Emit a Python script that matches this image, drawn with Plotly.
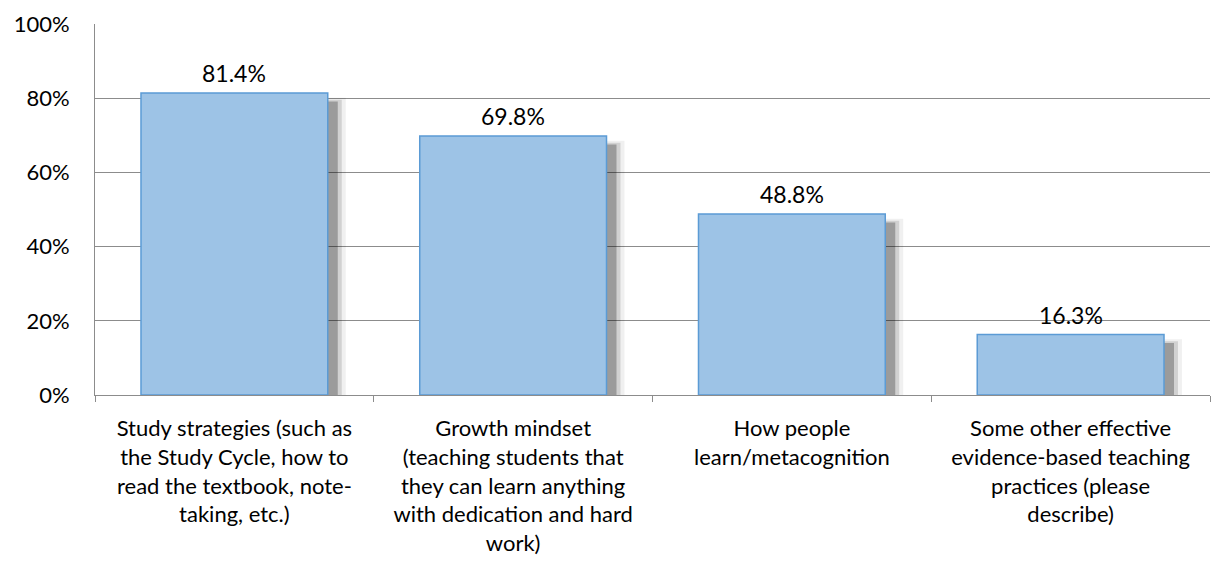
import plotly.graph_objects as go

categories = [
    "Study strategies (such as<br>the Study Cycle, how to<br>read the textbook, note-<br>taking, etc.)",
    "Growth mindset<br>(teaching students that<br>they can learn anything<br>with dedication and hard<br>work)",
    "How people<br>learn/metacognition",
    "Some other effective<br>evidence-based teaching<br>practices (please<br>describe)",
]
values = [0.814, 0.698, 0.488, 0.163]
value_labels = ["81.4%", "69.8%", "48.8%", "16.3%"]

FONT = "Lato"
BAR_W = 0.67
PX = 1 / 279.0  # one pixel in category units

fig = go.Figure()

# soft drop shadow layers (derived from data)
shadow_layers = [
    (18 * PX, 0.013, "rgba(0,0,0,0.06)"),
    (14 * PX, 0.018, "rgba(0,0,0,0.13)"),
    (10 * PX, 0.023, "rgba(0,0,0,0.26)"),
]
for dx, dy, col in shadow_layers:
    fig.add_trace(go.Bar(
        x=categories, y=[max(v - dy, 0) for v in values],
        width=BAR_W, offset=-BAR_W / 2 + dx,
        marker=dict(color=col, line=dict(width=0)),
        hoverinfo="skip", showlegend=False,
    ))

fig.add_trace(go.Bar(
    x=categories, y=values,
    width=BAR_W, offset=-BAR_W / 2,
    marker=dict(color="#9DC3E6", line=dict(color="#5B9BD5", width=1.5)),
    showlegend=False,
))

# value labels above bars
for c, v, t in zip(categories, values, value_labels):
    fig.add_annotation(
        x=c, y=v, text=t, showarrow=False, yshift=20,
        font=dict(family=FONT, size=23, color="#000000"),
    )

fig.update_layout(
    width=1212, height=569,
    margin=dict(l=95, r=2, t=24, b=174),
    barmode="overlay",
    plot_bgcolor="white", paper_bgcolor="white",
    font=dict(family=FONT, size=22, color="#000000"),
    xaxis=dict(
        showline=True, linecolor="#8c8c8c", linewidth=1,
        ticks="outside", tickson="boundaries", ticklen=6, tickcolor="#8c8c8c",
        showgrid=False, tickfont=dict(family=FONT, size=22),
        ticklabelstandoff=14,
    ),
    yaxis=dict(
        range=[0, 1], dtick=0.2, tickformat=".0%",
        showline=True, linecolor="#8c8c8c", linewidth=1,
        showgrid=True, gridcolor="#8c8c8c", gridwidth=1,
        ticks="", ticklen=0, zeroline=False,
        tickfont=dict(family=FONT, size=22),
        ticklabelstandoff=20,
    ),
)

fig.write_html("out.html")
